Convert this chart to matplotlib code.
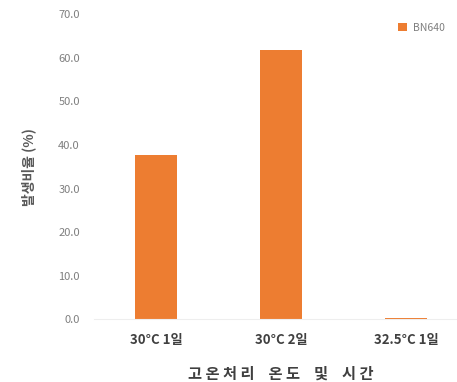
import matplotlib.pyplot as plt
import numpy as np

plt.rcParams['font.family'] = ['Noto Sans CJK KR', 'DejaVu Sans']

# 데이터
categories = ["30°C 1일", "30°C 2일", "32.5°C 1일"]
values = [37.8, 61.8, 0.2]
series_name = "BN640"
yticks = np.arange(0, 71, 10)

fig = plt.figure(figsize=(4.57, 3.82), dpi=100)
ax = fig.add_axes([0.205, 0.164, 0.82, 0.799])

x = np.arange(len(categories))
ax.bar(x, values, width=0.34, color="#ED7D31", label=series_name)

ax.set_xlim(-0.5, 2.5)
ax.set_ylim(0, 70)
ax.set_yticks(yticks)
ax.set_yticklabels([f"{v:.1f}" for v in yticks], fontsize=8, color="#7f7f7f")
ax.set_xticks(x)
ax.set_xticklabels(categories, fontsize=9.5, fontweight="bold", color="#404040")
ax.tick_params(length=0)
ax.tick_params(axis='y', pad=10)
ax.tick_params(axis='x', pad=10)

for s in ["top", "right", "left"]:
    ax.spines[s].set_visible(False)
ax.spines["bottom"].set_color("#eeeeee")

ax.set_xlabel("고 온 처 리    온 도    및    시 간", fontsize=11, fontweight="bold", color="#404040", labelpad=13)
ax.set_ylabel("발생비율 (%)", fontsize=10, fontweight="bold", color="#595959", labelpad=16)

ax.legend(loc="upper right", bbox_to_anchor=(0.995, 0.965), bbox_transform=fig.transFigure,
          frameon=False, fontsize=7.5, handlelength=0.9, handleheight=0.8, handletextpad=0.6,
          labelcolor="#7f7f7f")

fig.savefig("out.png", dpi=100)
